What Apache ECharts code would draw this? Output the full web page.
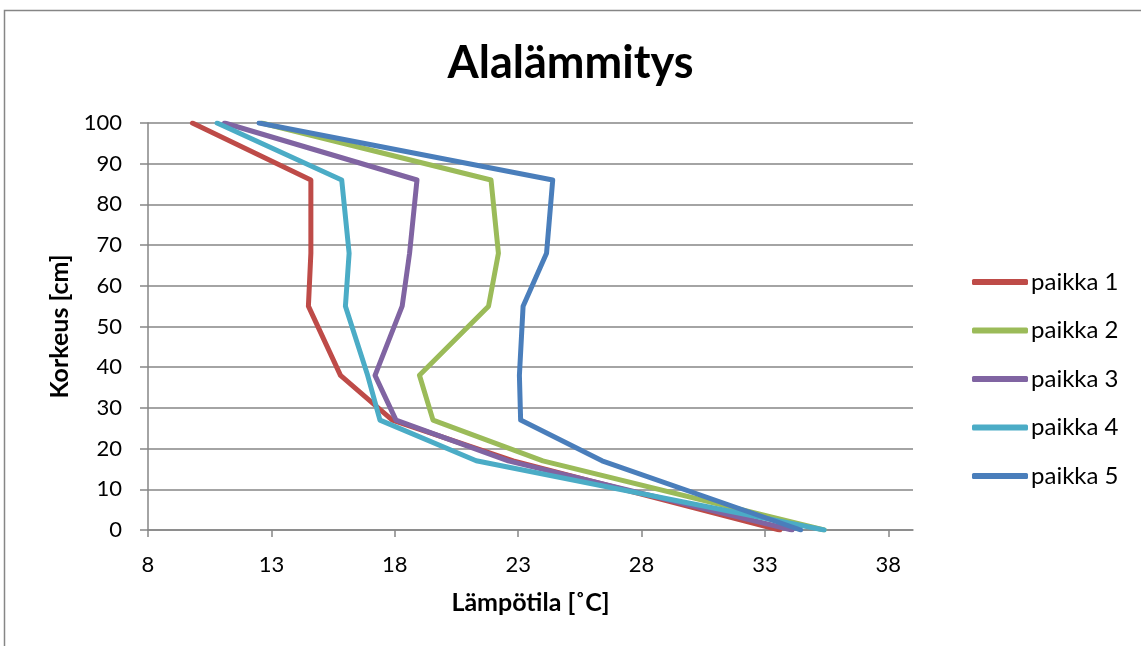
<!DOCTYPE html>
<html>
<head>
<meta charset="utf-8">
<script src="https://cdn.jsdelivr.net/npm/echarts@6/dist/echarts.min.js"></script>
<style>
html,body{margin:0;padding:0;background:#fff;}
#c{width:1141px;height:646px;}
</style>
</head>
<body>
<div id="c"></div>
<script>
// Heights (cm) at which temperatures were measured
const heights = [100, 86, 68, 55, 38, 27, 17, 0];
// Temperatures (°C) per location
const paikka1 = [9.8, 14.6, 14.6, 14.5, 15.8, 17.9, 22.8, 33.6];
const paikka2 = [12.6, 21.9, 22.2, 21.8, 19.0, 19.55, 24.0, 35.4];
const paikka3 = [11.1, 18.9, 18.6, 18.3, 17.2, 18.05, 22.6, 34.1];
const paikka4 = [10.8, 15.85, 16.15, 16.0, 16.9, 17.4, 21.3, 35.4];
const paikka5 = [12.5, 24.4, 24.15, 23.2, 23.05, 23.1, 26.4, 34.45];
const seriesNames = ['paikka 1', 'paikka 2', 'paikka 3', 'paikka 4', 'paikka 5'];
const xTicks = [8, 13, 18, 23, 28, 33, 38];
const yTicks = [0, 10, 20, 30, 40, 50, 60, 70, 80, 90, 100];

const colors = ['#BE4B48', '#9BBB59', '#8064A2', '#4BACC6', '#4A7EBB'];
const all = [paikka1, paikka2, paikka3, paikka4, paikka5];
const FONT = 'Lato, "Open Sans", sans-serif';

const chart = echarts.init(document.getElementById('c'), null, {renderer: 'canvas'});
chart.setOption({
  animation: false,
  backgroundColor: '#fff',
  graphic: [{
    type: 'rect', silent: true, z: -1,
    shape: {x: 4.5, y: 10.5, width: 1200, height: 700},
    style: {fill: 'none', stroke: '#868686', lineWidth: 1.5}
  }],
  title: {
    text: 'Alalämmitys', left: 'center', top: 36,
    textStyle: {fontFamily: FONT, fontSize: 45, fontWeight: 'bold', color: '#000'}
  },
  legend: {
    orient: 'vertical', left: 967, top: 265,
    itemWidth: 56, itemHeight: 6, itemGap: 24.5, icon: 'roundRect',
    data: seriesNames,
    textStyle: {fontFamily: FONT, fontSize: 24, color: '#000', padding: [0, 0, 0, -2], lineHeight: 24}
  },
  grid: {left: 148, top: 123, right: 228, bottom: 116, containLabel: false},
  xAxis: {
    type: 'value', min: 8, max: 39, interval: 5,
    name: 'Lämpötila [˚C]', nameLocation: 'middle', nameGap: 60,
    nameTextStyle: {fontFamily: FONT, fontSize: 25, fontWeight: 'bold', color: '#000'},
    axisLine: {show: true, onZero: false, lineStyle: {color: '#868686', width: 1.5}},
    axisTick: {show: true, length: 7, customValues: xTicks, lineStyle: {color: '#868686', width: 1.5}},
    axisLabel: {customValues: xTicks, margin: 24, fontFamily: FONT, fontSize: 22, color: '#000'},
    splitLine: {show: false}
  },
  yAxis: {
    type: 'value', min: 0, max: 100, interval: 10,
    name: 'Korkeus [cm]', nameLocation: 'middle', nameGap: 74, nameRotate: 90,
    nameTextStyle: {fontFamily: FONT, fontSize: 25, fontWeight: 'bold', color: '#000'},
    axisLine: {show: true, lineStyle: {color: '#868686', width: 1.5}},
    axisTick: {show: true, length: 8, lineStyle: {color: '#868686', width: 1.5}},
    axisLabel: {margin: 26, fontFamily: FONT, fontSize: 22, color: '#000', customValues: yTicks},
    splitLine: {show: true, lineStyle: {color: '#868686', width: 1.5}}
  },
  series: all.map((vals, i) => ({
    name: seriesNames[i], type: 'line',
    data: vals.map((v, k) => [v, heights[k]]),
    showSymbol: false, symbol: 'none',
    color: colors[i],
    lineStyle: {width: 5, color: colors[i], join: 'round', cap: 'round'}
  }))
});
</script>
</body>
</html>
